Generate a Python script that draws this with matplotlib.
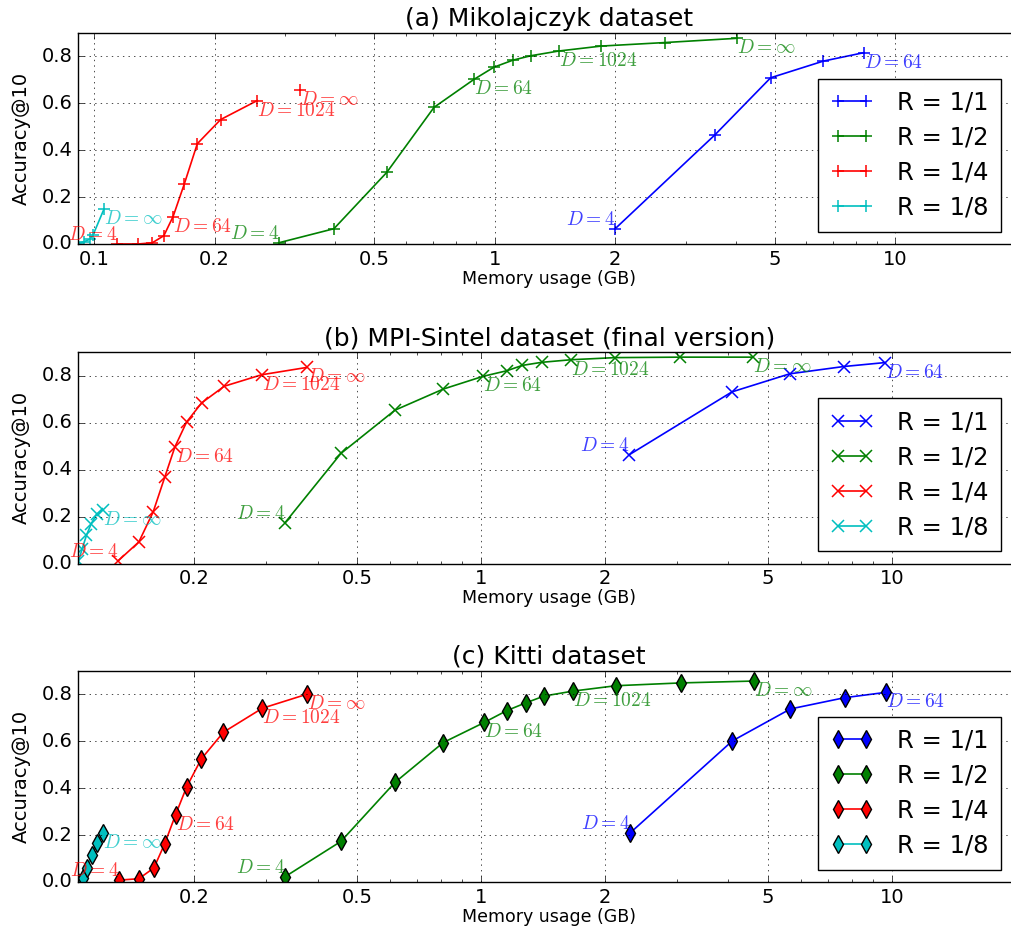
import numpy as np
import matplotlib
matplotlib.use('Agg')
import matplotlib.pyplot as plt

plt.style.use('classic')
plt.rcParams['mathtext.fontset'] = 'cm'
plt.rcParams['font.size'] = 12

# ---- data: (memory GB, accuracy@10) per ratio R ----
# (a) Mikolajczyk
mik_r1_x = [2.00, 3.55, 4.89, 6.62, 8.36]
mik_r1_y = [0.065, 0.465, 0.708, 0.779, 0.815]
mik_r2_x = [0.289, 0.397, 0.538, 0.706, 0.888, 0.996, 1.111, 1.233, 1.447, 1.846, 2.662, 4.02]
mik_r2_y = [0.005, 0.065, 0.305, 0.582, 0.701, 0.753, 0.783, 0.802, 0.822, 0.843, 0.858, 0.876]
mik_r4_x = [0.1143, 0.1288, 0.1397, 0.1493, 0.1575, 0.168, 0.181, 0.207, 0.2556, 0.3265]
mik_r4_y = [0.0, 0.0, 0.005, 0.035, 0.117, 0.256, 0.427, 0.53, 0.611, 0.658]
mik_r8_x = [0.0914, 0.0945, 0.0975, 0.0995, 0.1058]
mik_r8_y = [0.003, 0.01, 0.02, 0.04, 0.148]

# (b) MPI-Sintel final
sin_r1_x = [2.293, 4.08, 5.64, 7.63, 9.64]
sin_r1_y = [0.463, 0.731, 0.808, 0.839, 0.856]
sin_r2_x = [0.333, 0.456, 0.617, 0.809, 1.01, 1.155, 1.261, 1.405, 1.657, 2.12, 3.05, 4.59]
sin_r2_y = [0.173, 0.469, 0.653, 0.743, 0.797, 0.821, 0.844, 0.857, 0.868, 0.877, 0.879, 0.879]
sin_r4_x = [0.1309, 0.1469, 0.1591, 0.170, 0.1798, 0.192, 0.2088, 0.237, 0.2923, 0.376]
sin_r4_y = [0.012, 0.092, 0.219, 0.370, 0.497, 0.603, 0.684, 0.755, 0.804, 0.835]
sin_r8_x = [0.1047, 0.1068, 0.1095, 0.1125, 0.1160, 0.1200]
sin_r8_y = [0.01, 0.06, 0.12, 0.17, 0.21, 0.23]

# (c) Kitti
kit_r1_x = [2.306, 4.09, 5.66, 7.67, 9.69]
kit_r1_y = [0.209, 0.601, 0.737, 0.785, 0.808]
kit_r2_x = [0.333, 0.456, 0.617, 0.809, 1.019, 1.155, 1.285, 1.423, 1.672, 2.128, 3.064, 4.63]
kit_r2_y = [0.022, 0.173, 0.424, 0.594, 0.680, 0.730, 0.763, 0.792, 0.813, 0.836, 0.848, 0.856]
kit_r4_x = [0.1315, 0.1469, 0.1598, 0.1697, 0.1805, 0.1919, 0.2084, 0.236, 0.2934, 0.377]
kit_r4_y = [0.008, 0.014, 0.060, 0.162, 0.287, 0.404, 0.524, 0.638, 0.740, 0.800]
kit_r8_x = [0.1047, 0.1072, 0.110, 0.113, 0.116, 0.120]
kit_r8_y = [0.0, 0.015, 0.058, 0.115, 0.164, 0.209]

ratios = ['1/1', '1/2', '1/4', '1/8']
colors = ['b', 'g', 'r', 'c']
titles = ['(a) Mikolajczyk dataset',
          '(b) MPI-Sintel dataset (final version)',
          '(c) Kitti dataset']
markers = ['+', 'x', 'd']
xlims = [(0.0914, 20.5), (0.1047, 20.5), (0.1047, 20.5)]
xticks = [0.1, 0.2, 0.5, 1, 2, 5, 10]
xticklabels = ['0.1', '0.2', '0.5', '1', '2', '5', '10']

datasets = [
    [(mik_r1_x, mik_r1_y), (mik_r2_x, mik_r2_y), (mik_r4_x, mik_r4_y), (mik_r8_x, mik_r8_y)],
    [(sin_r1_x, sin_r1_y), (sin_r2_x, sin_r2_y), (sin_r4_x, sin_r4_y), (sin_r8_x, sin_r8_y)],
    [(kit_r1_x, kit_r1_y), (kit_r2_x, kit_r2_y), (kit_r4_x, kit_r4_y), (kit_r8_x, kit_r8_y)],
]

# which points get a "D=" annotation, per ratio: (index, text)
labels_at = [
    [(0, '4'), (4, '64')],
    [(0, '4'), (4, '64'), (8, '1024'), (-1, r'\infty')],
    [(0, '4'), (4, '64'), (8, '1024'), (-1, r'\infty')],
    [(-1, r'\infty')],
]

fig = plt.figure(figsize=(10.11, 9.42), dpi=100)
bottoms = [0.741, 0.4018, 0.0637]
ax_w = 941.5 / 1011

for k in range(3):
    ax = fig.add_axes([0.0776, bottoms[k], ax_w, 0.2243])
    for j in range(4):
        x, y = datasets[k][j]
        x = np.array(x)
        y = np.array(y)
        mkw = dict(marker=markers[k], markersize=9 if markers[k] == 'd' else 8,
                   mew=1.0 if markers[k] == 'd' else 1.1, lw=1.2, color=colors[j])
        if markers[k] == 'd':
            mkw['mfc'] = colors[j]
            mkw['mec'] = 'k'
        if k == 0 and j == 2:
            # D=inf point of R=1/4 is drawn unconnected here
            ax.plot(x[:-1], y[:-1], label='R = ' + ratios[j], **mkw)
            ax.plot(x[-1:], y[-1:], ls='none', **mkw)
        else:
            ax.plot(x, y, label='R = ' + ratios[j], **mkw)
        for idx, txt in labels_at[j]:
            if idx == 0:
                ax.text(x[idx], y[idx], r'$D=%s$' % txt, color=colors[j], alpha=0.75,
                        ha='right', va='bottom', fontsize=14)
            else:
                ax.text(x[idx], y[idx], r'$D=%s$' % txt, color=colors[j], alpha=0.75,
                        ha='left', va='top', fontsize=14)
    ax.set_xscale('log')
    ax.set_xlim(xlims[k])
    ax.set_ylim(0, 0.9)
    ax.set_xticks(xticks)
    ax.set_xticklabels(xticklabels)
    ax.set_yticks([0.0, 0.2, 0.4, 0.6, 0.8])
    ax.set_xlim(xlims[k])
    ax.tick_params(labelsize=14)
    ax.grid(True)
    ax.set_title(titles[k], fontsize=18)
    ax.set_xlabel('Memory usage (GB)', fontsize=12.5, labelpad=1)
    ax.set_ylabel('Accuracy@10', fontsize=14, labelpad=8)
    ax.legend(loc='lower right', bbox_to_anchor=(0.9926, 0.0), numpoints=2,
              fontsize=17.5, handlelength=1.75, handletextpad=1.0,
              labelspacing=0.45, borderpad=0.5)

fig.savefig('out.png', dpi=100)
